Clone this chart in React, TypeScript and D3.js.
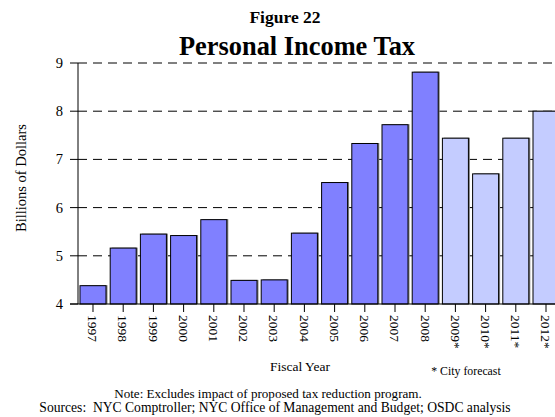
import React from "react";
import * as d3 from "d3";

const years = ["1997","1998","1999","2000","2001","2002","2003","2004","2005","2006","2007","2008","2009*","2010*","2011*","2012*"];
const values = [4.38,5.16,5.45,5.42,5.75,4.49,4.50,5.47,6.52,7.33,7.72,8.81,7.44,6.70,7.44,8.0];
const forecast = [false,false,false,false,false,false,false,false,false,false,false,false,true,true,true,true];
const yTicks = [4,5,6,7,8,9];

const W = 555, H = 417;
const left = 78, right = 561, top = 63, bottom = 304;

export default function App() {
  const x = d3.scaleBand<string>().domain(years).range([left, right]).paddingInner(0.139).paddingOuter(0.066);
  const y = d3.scaleLinear().domain([4, 9]).range([bottom, top]);
  const font = "'Liberation Serif', 'Times New Roman', serif";
  return (
    <svg width={W} height={H} style={{ position: "absolute", left: 0, top: 0, background: "#fff" }} fontFamily={font}>
      <text x={285} y={23} textAnchor="middle" fontSize={17.5} fontWeight="bold">Figure 22</text>
      <text x={297} y={55} textAnchor="middle" fontSize={26.4} fontWeight="bold">Personal Income Tax</text>
      {yTicks.map(t => (
        <g key={t}>
          {t > 4 && <line x1={left} x2={W} y1={y(t)} y2={y(t)} stroke="#000" strokeDasharray="9,6" strokeWidth={1} />}
          <line x1={left - 8} x2={left} y1={y(t)} y2={y(t)} stroke="#000" />
          <text x={left - 15} y={y(t) + 5} textAnchor="end" fontSize={14.5}>{t}</text>
        </g>
      ))}
      {years.map((yr, i) => {
        const bx = x(yr)!;
        const bw = x.bandwidth();
        const by = y(values[i]);
        return (
          <g key={yr}>
            <rect x={bx + 1.5} y={by - 0.5} width={bw} height={bottom - by + 0.5} fill="#808080" />
            <rect x={bx} y={by} width={bw} height={bottom - by} fill={forecast[i] ? "#c4ccff" : "#8080ff"} stroke="#000" strokeWidth={1} />
          </g>
        );
      })}
      <line x1={left} x2={left} y1={top} y2={bottom} stroke="#000" />
      <line x1={left - 8} x2={W} y1={bottom} y2={bottom} stroke="#000" />
      {years.map(yr => {
        const cx = x(yr)! + x.bandwidth() / 2;
        return (
          <g key={"t" + yr}>
            <line x1={cx} x2={cx} y1={bottom} y2={bottom + 8} stroke="#000" />
            <text transform={`translate(${cx - 4.7},${bottom + 11}) rotate(90)`} fontSize={13.5}>{yr}</text>
          </g>
        );
      })}
      <text transform={`translate(26,178) rotate(-90)`} textAnchor="middle" fontSize={14.5}>Billions of Dollars</text>
      <text x={300} y={371} textAnchor="middle" fontSize={13.5}>Fiscal Year</text>
      <text x={466} y={375} textAnchor="middle" fontSize={11.8}>* City forecast</text>
      <text x={268} y={398} textAnchor="middle" fontSize={13.1}>Note: Excludes impact of proposed tax reduction program.</text>
      <text x={275} y={412} textAnchor="middle" fontSize={13.6} style={{ whiteSpace: "pre" }}>{"Sources:  NYC Comptroller; NYC Office of Management and Budget; OSDC analysis"}</text>
    </svg>
  );
}
